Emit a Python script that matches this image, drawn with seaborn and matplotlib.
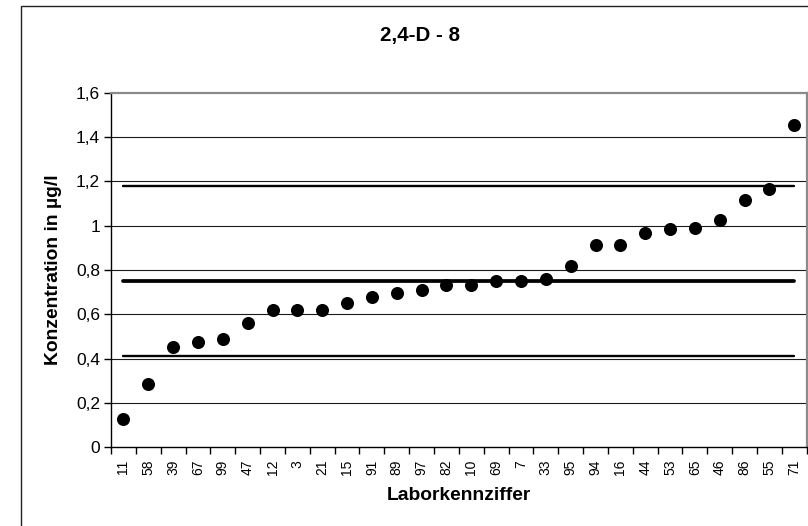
import matplotlib
matplotlib.use("Agg")
import matplotlib.pyplot as plt
from matplotlib.patches import Rectangle
from matplotlib.ticker import FixedLocator, FuncFormatter
import seaborn as sns
import pandas as pd

# Laboratory codes, sorted by reported concentration
lab_codes = ["11", "58", "39", "67", "99", "47", "12", "3", "21", "15", "91", "89", "97", "82",
             "10", "69", "7", "33", "95", "94", "16", "44", "53", "65", "46", "86", "55", "71"]
# Reported concentrations in µg/l
concentrations = [0.126, 0.286, 0.454, 0.477, 0.490, 0.561, 0.621, 0.621, 0.621, 0.651,
                  0.680, 0.698, 0.710, 0.734, 0.734, 0.752, 0.752, 0.758, 0.818, 0.913,
                  0.913, 0.966, 0.984, 0.990, 1.026, 1.116, 1.164, 1.454]
# Assigned value and tolerance limits
assigned_value = 0.75
lower_limit = 0.41
upper_limit = 1.18
y_ticks = [0, 0.2, 0.4, 0.6, 0.8, 1.0, 1.2, 1.4, 1.6]

sns.set_theme(style="white")
plt.rcParams["font.family"] = ["Liberation Sans", "DejaVu Sans"]

df = pd.DataFrame({"Labor": lab_codes, "Konzentration": concentrations})

fig = plt.figure(figsize=(8.08, 5.26), dpi=100)
fig.patch.set_facecolor("white")
ax = fig.add_axes([111 / 808, 1 - 447.3 / 526, (806.7 - 111) / 808, (447.3 - 92.7) / 526])

# outer chart frame (extends past the right and bottom edges)
fig.patches.append(Rectangle((20.7 / 808, -0.1), 1.2, 1 - 5.7 / 526 + 0.1,
                             transform=fig.transFigure, fill=False,
                             edgecolor="#222222", linewidth=1.0, zorder=0))

n = len(lab_codes)
ax.set_ylim(0, 1.6)
ax.set_xlim(-0.5, n - 0.5)

# horizontal gridlines
for yv in y_ticks[1:-1]:
    ax.axhline(yv, color="#1a1a1a", linewidth=0.8, zorder=1)

# tolerance limits and assigned value
ax.plot([0, n - 1], [upper_limit, upper_limit], color="black", linewidth=1.7,
        solid_capstyle="round", zorder=2)
ax.plot([0, n - 1], [assigned_value, assigned_value], color="black", linewidth=2.7,
        solid_capstyle="round", zorder=2)
ax.plot([0, n - 1], [lower_limit, lower_limit], color="black", linewidth=1.7,
        solid_capstyle="round", zorder=2)

sns.stripplot(data=df, x="Labor", y="Konzentration", order=lab_codes, jitter=False,
              color="black", size=9.4, linewidth=0, ax=ax, zorder=3)
ax.set_xlim(-0.5, n - 0.5)
ax.set_ylim(0, 1.6)

# spines
for side in ["left", "bottom"]:
    ax.spines[side].set_color("black")
    ax.spines[side].set_linewidth(1.0)
for side in ["top", "right"]:
    ax.spines[side].set_visible(True)
    ax.spines[side].set_color("#8a8a8a")
    ax.spines[side].set_linewidth(1.6)

# y axis
ax.set_yticks(y_ticks)
ax.yaxis.set_major_formatter(FuncFormatter(lambda v, p: ("%g" % round(v, 1)).replace(".", ",")))
ax.tick_params(axis="y", which="major", direction="out", length=5, width=1, color="black",
               left=True, labelsize=12.5, pad=3, labelcolor="black")

# x axis: labels at category centres, tick marks at category boundaries
ax.set_xticks(range(n))
ax.set_xticklabels(lab_codes, rotation=90, fontsize=10, color="black")
ax.tick_params(axis="x", which="major", length=0, pad=9, bottom=True)
ax.xaxis.set_minor_locator(FixedLocator([k - 0.5 for k in range(n + 1)]))
ax.tick_params(axis="x", which="minor", direction="out", length=5, width=1, color="black",
               bottom=True)

ax.set_xlabel("Laborkennziffer", fontsize=13.9, fontweight="bold", labelpad=8, color="black")
ax.set_ylabel("Konzentration in µg/l", fontsize=13.9, fontweight="bold", labelpad=10,
              color="black")
fig.text(420 / 808, 1 - 35 / 526, "2,4-D - 8", ha="center", va="center",
         fontsize=14.8, fontweight="bold", color="black")

fig.savefig("out.png", dpi=100, facecolor="white")
